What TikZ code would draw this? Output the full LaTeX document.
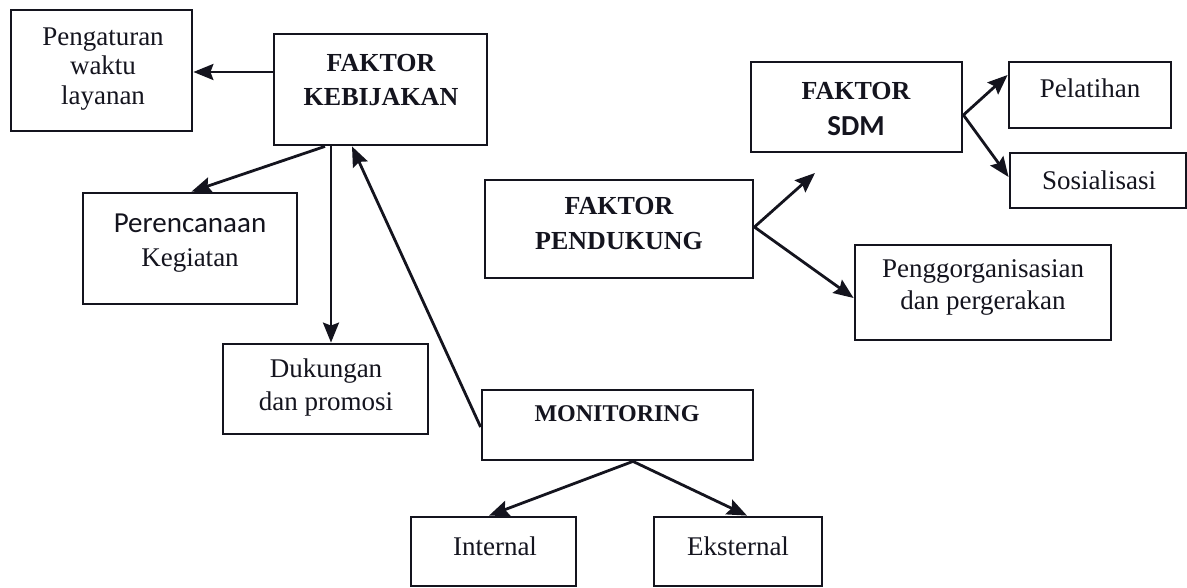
\documentclass[tikz,border=0pt]{standalone}
\usepackage{fontspec}
\setmainfont{Liberation Serif}
\newfontfamily\carlito{Carlito}
\usetikzlibrary{arrows.meta}
\definecolor{ink}{RGB}{20,20,30}
\tikzset{
  box/.style={draw=ink, line width=2.8pt, inner sep=0pt},
  txt/.style={align=center, inner sep=0pt, text=ink},
  reg/.style={font=\fontsize{27}{30}\selectfont},
  bld/.style={font=\fontsize{26}{34}\selectfont\bfseries},
  arr/.style={draw=ink, line width=2.8pt, -{Stealth[length=20pt,width=16pt,inset=3pt]}},
}
\begin{document}
\begin{tikzpicture}[x=1pt,y=-1pt]
\useasboundingbox (0,0) rectangle (1187,588);
% boxes
\node[box, minimum width=181, minimum height=121] (peng) at (101.5,70.5) {};
\node[box, minimum width=213, minimum height=111] (kebij) at (380.5,89.5) {};
\node[box, minimum width=214, minimum height=111] (peren) at (190,248.5) {};
\node[box, minimum width=205, minimum height=90] (duk) at (325.5,389) {};
\node[box, minimum width=271, minimum height=70] (moni) at (617.5,425) {};
\node[box, minimum width=165, minimum height=69] (intern) at (493.5,551.5) {};
\node[box, minimum width=168, minimum height=69] (ekst) at (738,551.5) {};
\node[box, minimum width=268, minimum height=98] (pend) at (619,229) {};
\node[box, minimum width=211, minimum height=90] (sdm) at (856.5,107) {};
\node[box, minimum width=162, minimum height=66] (pel) at (1090,95) {};
\node[box, minimum width=176, minimum height=55] (sos) at (1098,180.5) {};
\node[box, minimum width=256, minimum height=95] (pengg) at (983,292.5) {};
% texts
\node[txt, font=\fontsize{27}{29.5}\selectfont] (pengT) at (103,69) {Pengaturan\\waktu\\layanan};
\node[txt, bld] (kebijT) at (381,80) {FAKTOR\\KEBIJAKAN};
\node[txt, font=\fontsize{27}{34}\selectfont] (perenT) at (190,243) {{\carlito\fontsize{29}{34}\selectfont Perencanaan}\\Kegiatan};
\node[txt, font=\fontsize{27}{33}\selectfont] (dukT) at (326,388) {Dukungan\\dan promosi};
\node[txt, font=\fontsize{24}{30}\selectfont\bfseries] (moniT) at (617,414) {MONITORING};
\node[txt, reg] (internT) at (495,546) {Internal};
\node[txt, reg] (ekstT) at (738,546) {Eksternal};
\node[txt, font=\fontsize{26}{35}\selectfont\bfseries] (pendT) at (619,224) {FAKTOR\\PENDUKUNG};
\node[txt, font=\fontsize{26}{36}\selectfont\bfseries] (sdmT) at (856,109) {FAKTOR\\{\carlito\bfseries\fontsize{29}{36}\selectfont SDM}};
\node[txt, reg] (pelT) at (1090,88) {Pelatihan};
\node[txt, reg] (sosT) at (1099,180) {Sosialisasi};
\node[txt, font=\fontsize{27}{32}\selectfont] (penggT) at (983,287) {Penggorganisasian\\dan pergerakan};
% connectors
\coordinate (free) at (815,173);
\draw[arr] ([yshift=17.5pt]kebij.west) -- ([yshift=17.5pt]kebij.west -| peng.east);
\draw[arr] ([xshift=-55.5pt]kebij.south) -- ([xshift=1.5pt]peren.north);
\draw[arr] ([xshift=-49.5pt]kebij.south) -- ([xshift=-49.5pt]kebij.south |- duk.north);
\draw[arr] ([yshift=-2pt]moni.west) -- ([xshift=-28.5pt]kebij.south);
\draw[arr] ([xshift=15.5pt]moni.south) -- ([xshift=-4.5pt]intern.north);
\draw[arr] ([xshift=15.5pt]moni.south) -- ([xshift=9pt]ekst.north);
\draw[arr] ([yshift=2pt]pend.east) -- (free);
\draw[arr] ([yshift=2pt]pend.east) -- ([yshift=-5.5pt]pengg.west);
\draw[arr] ([yshift=-8pt]sdm.east) -- ([yshift=20pt]pel.west);
\draw[arr] ([yshift=-8pt]sdm.east) -- ([yshift=3.5pt]sos.west);
\end{tikzpicture}
\end{document}
